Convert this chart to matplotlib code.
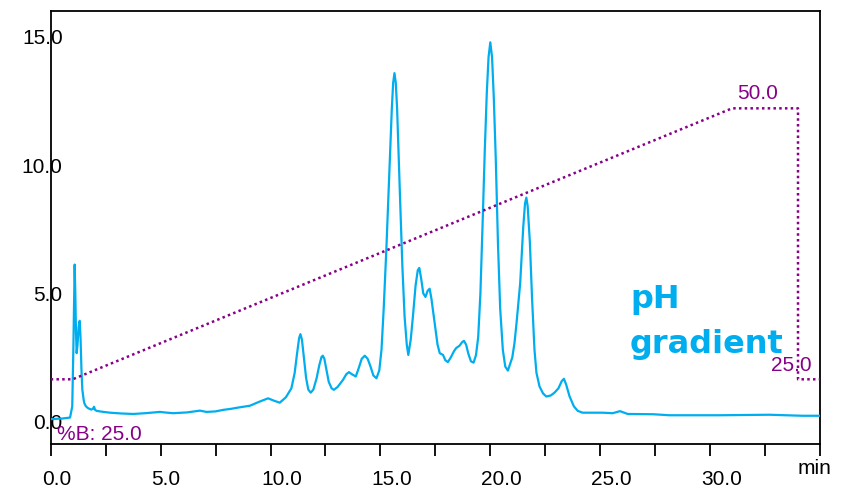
import matplotlib
matplotlib.use("Agg")
import matplotlib.pyplot as plt
from matplotlib.ticker import FixedLocator, MultipleLocator, NullFormatter
import matplotlib.transforms as mtransforms

plt.rcParams['font.family'] = ['Liberation Sans', 'DejaVu Sans']

# ---- data ----
trace_t = [0.0, 0.5, 0.88, 0.98, 1.03, 1.07, 1.09, 1.12, 1.15, 1.18, 1.22, 1.27, 1.32, 1.36,
           1.40, 1.44, 1.50, 1.53, 1.60, 1.71, 1.85, 1.92, 1.97, 2.02, 2.09, 2.4, 2.7, 3.2,
           3.75, 4.3, 4.97, 5.3, 5.57, 6.2, 6.79, 7.09, 7.5, 7.85, 8.2, 8.6, 9.06, 9.5, 9.89,
           10.15, 10.42, 10.7, 10.95, 11.1, 11.2, 11.3, 11.36, 11.43, 11.52, 11.62, 11.72,
           11.83, 11.95, 12.1, 12.22, 12.32, 12.38, 12.45, 12.55, 12.65, 12.78, 12.88, 13.05,
           13.2, 13.3, 13.45, 13.57, 13.7, 13.88, 14.0, 14.15, 14.29, 14.42, 14.55, 14.68,
           14.82, 14.95, 15.05, 15.15, 15.27, 15.36, 15.45, 15.52, 15.58, 15.64, 15.7, 15.76,
           15.82, 15.91, 16.0, 16.1, 16.2, 16.27, 16.38, 16.48, 16.6, 16.7, 16.77, 16.85,
           16.95, 17.05, 17.15, 17.24, 17.32, 17.47, 17.6, 17.7, 17.85, 17.95, 18.07, 18.2,
           18.35, 18.45, 18.6, 18.72, 18.8, 18.9, 19.0, 19.12, 19.24, 19.35, 19.45, 19.55,
           19.66, 19.75, 19.84, 19.92, 20.0, 20.08, 20.16, 20.25, 20.35, 20.45, 20.57, 20.68,
           20.8, 21.0, 21.1, 21.2, 21.36, 21.5, 21.58, 21.64, 21.7, 21.8, 21.9, 22.01, 22.1,
           22.24, 22.4, 22.55, 22.75, 22.92, 23.1, 23.25, 23.35, 23.45, 23.6, 23.8, 23.98,
           24.2, 25.1, 25.57, 25.9, 26.25, 27.4, 28.15, 30.4, 32.7, 34.2, 35.0]
trace_v = [0.10, 0.12, 0.16, 0.59, 2.8, 5.2, 6.12, 5.0, 3.5, 2.67, 3.0, 3.7, 3.93, 3.2,
           2.0, 1.24, 0.85, 0.72, 0.60, 0.52, 0.47, 0.50, 0.58, 0.46, 0.42, 0.38, 0.35, 0.32,
           0.30, 0.33, 0.38, 0.35, 0.33, 0.36, 0.43, 0.38, 0.40, 0.46, 0.50, 0.56, 0.62, 0.78, 0.91,
           0.82, 0.74, 0.95, 1.30, 1.9, 2.6, 3.25, 3.41, 3.2, 2.5, 1.7, 1.25,
           1.13, 1.25, 1.7, 2.2, 2.52, 2.57, 2.45, 2.0, 1.55, 1.3, 1.24, 1.35,
           1.52, 1.63, 1.85, 1.93, 1.85, 1.76, 2.05, 2.45, 2.57, 2.45, 2.15, 1.8,
           1.69, 2.0, 2.8, 4.4, 6.7, 8.7, 10.6, 12.2, 13.2, 13.58, 13.2, 12.2,
           10.6, 8.3, 6.05, 4.1, 3.0, 2.6, 3.2, 4.1, 5.3, 5.9, 5.99, 5.6,
           5.0, 4.86, 5.1, 5.18, 4.8, 3.84, 3.0, 2.67, 2.6, 2.4, 2.32, 2.5,
           2.75, 2.87, 2.96, 3.1, 3.15, 3.0, 2.65, 2.35, 2.3, 2.6, 3.3, 5.0,
           8.0, 10.6, 12.8, 14.2, 14.78, 14.2, 12.6, 10.2, 6.9, 4.4, 2.8, 2.15,
           1.99, 2.5, 3.06, 3.9, 5.4, 7.6, 8.5, 8.73, 8.4, 7.0, 4.8, 2.8, 1.9,
           1.37, 1.1, 0.98, 1.02, 1.13, 1.3, 1.58, 1.67, 1.45, 1.0, 0.6, 0.42,
           0.35, 0.35, 0.33, 0.41, 0.30, 0.29, 0.25, 0.25, 0.27, 0.23, 0.23]

grad_t = [0.0, 1.0, 31.0, 34.0, 34.0, 35.0]
grad_b = [25.0, 25.0, 50.0, 50.0, 25.0, 25.0]

x_major = [0, 5, 10, 15, 20, 25, 30]
x_labels = ["0.0", "5.0", "10.0", "15.0", "20.0", "25.0", "30.0"]
y_major = [0, 5, 10, 15]
y_labels = ["0.0", "5.0", "10.0", "15.0"]

TRACE_C = '#00AEEF'
GRAD_C = '#870087'

fig = plt.figure(figsize=(8.47, 4.91), dpi=100)
ax = fig.add_axes([50.7/847, 1-444/491, (820-50.7)/847, (444-11)/491])

ax.plot(trace_t, trace_v, color=TRACE_C, lw=1.6, solid_joinstyle='round', zorder=3)
ax.set_xlim(0, 35)
ax.set_ylim(-0.87, 16.0)

ax2 = ax.twinx()
ax2.plot(grad_t, grad_b, color=GRAD_C, lw=1.8, linestyle=(0, (1, 1.3)),
         dash_capstyle='butt', zorder=2)
ax2.set_ylim(19.03, 58.98)
ax2.set_yticks([])
for s in ax2.spines.values():
    s.set_visible(False)

for s in ax.spines.values():
    s.set_linewidth(1.3)

ax.xaxis.set_major_locator(FixedLocator(x_major))
ax.set_xticklabels(x_labels)
ax.xaxis.set_minor_locator(MultipleLocator(2.5))
ax.xaxis.set_minor_formatter(NullFormatter())
ax.tick_params(axis='x', which='both', direction='out', length=8.6, width=1.3,
               labelsize=15, pad=10)
offset = mtransforms.ScaledTranslation(-9/100, 0, fig.dpi_scale_trans)
for lab in ax.get_xticklabels():
    lab.set_horizontalalignment('left')
    lab.set_transform(lab.get_transform() + offset)

ax.set_yticks(y_major)
ax.set_yticklabels(y_labels)
ax.tick_params(axis='y', length=0, labelsize=15, pad=-8.6)

ax.text(0.9935, -0.0577, 'min', transform=ax.transAxes, ha='center', va='center',
        fontsize=15)
ax.text(6.3/769.3, 0.0215, '%B: 25.0', transform=ax.transAxes, ha='left', va='center',
        fontsize=15, color=GRAD_C)
ax.text(0.9194, 0.8106, '50.0', transform=ax.transAxes, ha='center', va='center',
        fontsize=15, color=GRAD_C)
ax.text(0.9623, 0.1824, '25.0', transform=ax.transAxes, ha='center', va='center',
        fontsize=15, color=GRAD_C)
ax.text(0.753, 0.3696, 'pH\ngradient', transform=ax.transAxes, ha='left', va='top',
        fontsize=23, fontweight='bold', color=TRACE_C, family='DejaVu Sans',
        linespacing=1.57)

fig.savefig('out.png', dpi=100)
